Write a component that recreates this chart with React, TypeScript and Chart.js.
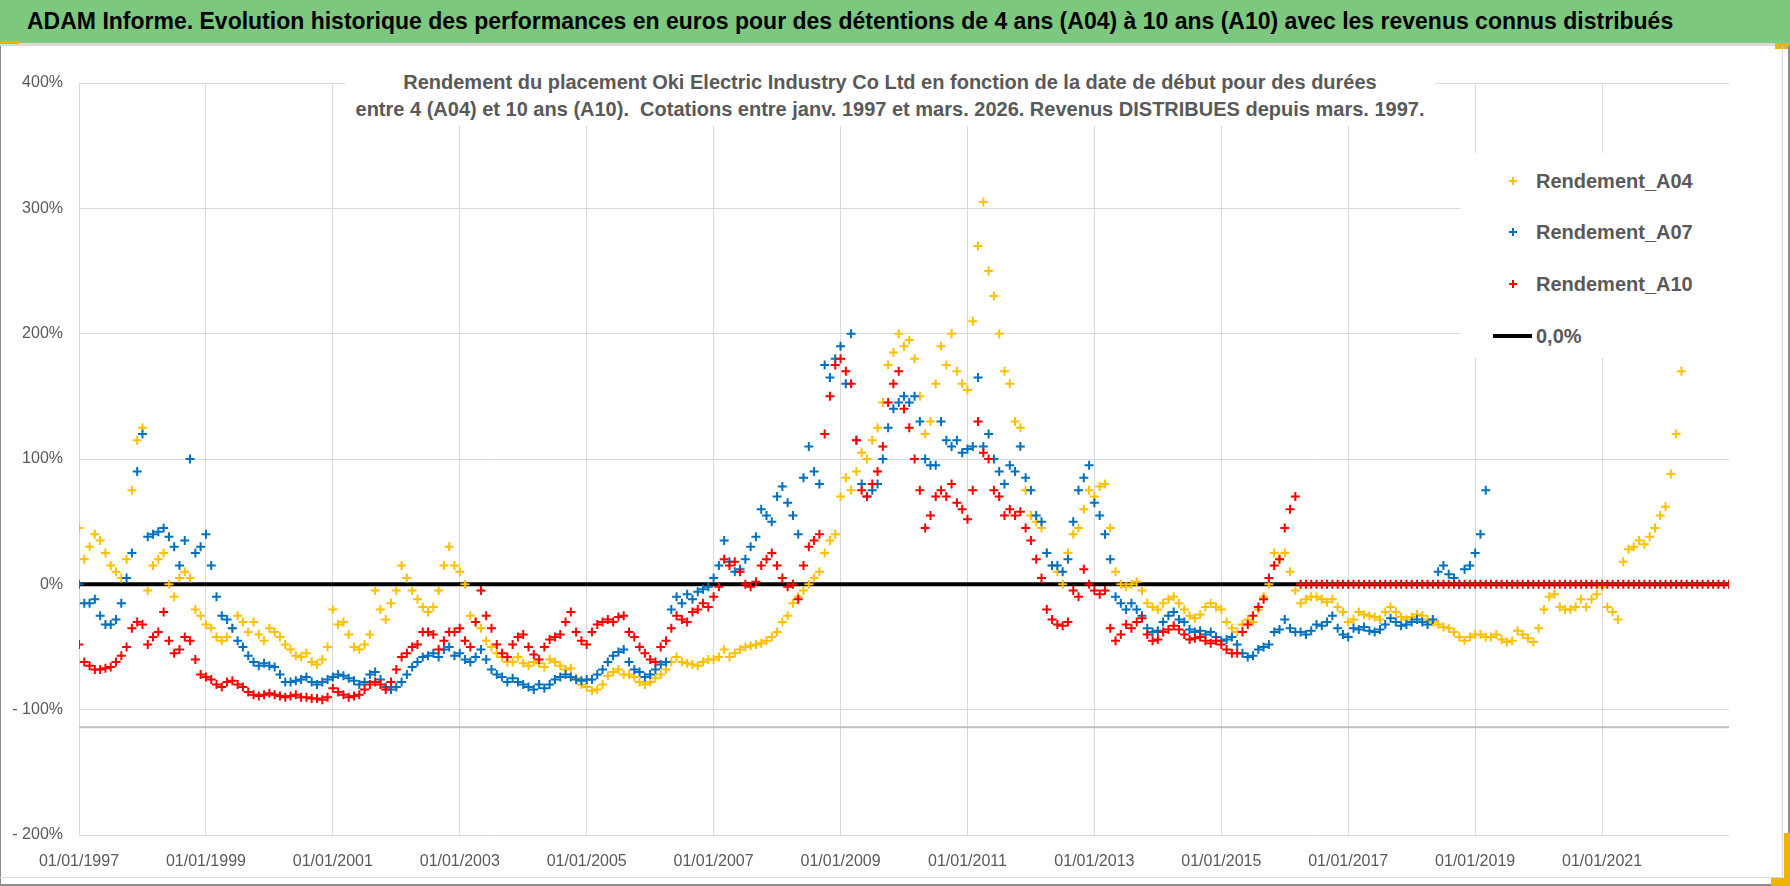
import React, { useEffect, useRef } from "react";
import { Chart, registerables } from "chart.js";

Chart.register(...registerables);

// ---------------- DATA ----------------
const START_YEAR = 1997; // monthly values starting January 1997
const X_MIN = 1997;
const X_MAX = 2023;
const TICK_YEARS = [1997, 1999, 2001, 2003, 2005, 2007, 2009, 2011, 2013, 2015, 2017, 2019, 2021];
const Y_TICKS = [-200, -100, 0, 100, 200, 300, 400];

const TITLE =
  "ADAM Informe. Evolution historique des performances en euros pour des détentions de 4 ans (A04) à 10 ans (A10) avec les revenus connus distribués";
const SUBTITLE_1 =
  "Rendement du placement Oki Electric Industry Co Ltd en fonction de la date de début pour des durées";
const SUBTITLE_2 =
  "entre 4 (A04) et 10 ans (A10).  Cotations entre janv. 1997 et mars. 2026. Revenus DISTRIBUES depuis mars. 1997.";

const SERIES_NAMES = ["Rendement_A04", "Rendement_A07", "Rendement_A10", "0,0%"];

// Rendement_A04 (%), monthly from Jan 1997
const A04 = [
  45, 20, 30, 40, 35, 25, 15, 10, 5, 20, 75, 115,
  125, -5, 15, 20, 25, 0, -10, 5, 10, 5, -20, -25,
  -32, -35, -42, -45, -42, -35, -25, -30, -38, -30, -40, -45,
  -35, -38, -42, -48, -52, -57, -58, -55, -62, -64, -60, -50,
  -20, -32, -30, -40, -50, -52, -48, -40, -5, -20, -28, -15,
  -5, 15, 5, -5, -12, -18, -22, -18, -5, 15, 30, 15,
  10, 0, -25, -30, -35, -45, -50, -55, -58, -62, -62, -58,
  -63, -65, -62, -63, -66, -60, -62, -65, -68, -67, -75, -80,
  -82, -85, -84, -80, -73, -70, -68, -72, -72, -74, -78, -80,
  -78, -75, -72, -68, -62, -58, -62, -63, -64, -65, -62, -60,
  -60, -58, -52, -58, -55, -52, -50, -49, -48, -47, -45, -42,
  -38, -30, -25, -15, -10, -5, 0, 5, 10, 25, 35, 40,
  70, 85, 75, 90, 105, 100, 115, 125, 145, 175, 185, 200,
  190, 195, 180, 150, 120, 130, 160, 190, 175, 200, 170, 160,
  155, 210, 270, 305, 250, 230, 200, 170, 160, 130, 125, 75,
  55, 50, 45, 25, 15, 10, 0, 25, 40, 45, 60, 75,
  70, 78, 80, 45, 10, 0, -2, 0, 2, -5, -15, -18,
  -20, -15, -12, -10, -15, -20, -25, -27, -24, -18, -15, -18,
  -20, -30, -35, -38, -32, -28, -30, -20, -10, 0, 25, 20,
  25, 10, -5, -15, -12, -10, -10, -12, -14, -12, -18, -22,
  -30, -28, -22, -24, -25, -26, -28, -22, -18, -22, -26, -28,
  -26, -24, -25, -28, -30, -32, -34, -35, -38, -42, -45, -42,
  -40, -40, -42, -42, -40, -44, -46, -45, -37, -40, -43, -46,
  -35, -20, -10, -8, -18, -20, -20, -18, -12, -18, -12, -8,
  -2, -18, -22, -28, 18, 28, 30, 35, 32, 38, 45, 55,
  62, 88, 120, 170,
];

// Rendement_A07 (%), monthly from Jan 1997
const A07 = [
  0, -15, -15, -12, -25, -32, -32, -28, -15, 5, 25, 90,
  120, 38, 40, 42, 45, 38, 30, 15, 35, 100, 25, 30,
  40, 15, -10, -25, -28, -35, -45, -50, -57, -62, -65, -63,
  -65, -66, -72, -78, -78, -77, -76, -74, -78, -80, -78, -76,
  -74, -72, -73, -75, -77, -80, -78, -72, -70, -76, -82, -84,
  -82, -78, -72, -66, -62, -58, -57, -55, -58, -52, -50, -57,
  -55, -60, -62, -58, -52, -60, -68, -72, -74, -78, -75, -78,
  -80, -82, -84, -80, -83, -80, -76, -74, -72, -74, -76, -77,
  -76, -76, -72, -68, -62, -57, -54, -52, -62, -68, -70, -74,
  -72, -68, -64, -62, -20, -10, -15, -8, -12, -6, -4, -2,
  5, 15, 35, 18, 10, 12, 20, 30, 38, 60, 55, 50,
  70, 78, 65, 55, 40, 85, 110, 90, 80, 175, 165, 180,
  190, 160, 200, 115, 80, 70, 75, 80, 100, 125, 140, 145,
  150, 145, 150, 130, 100, 95, 95, 130, 115, 110, 115, 105,
  108, 110, 165, 110, 120, 100, 90, 80, 95, 90, 110, 85,
  75, 55, 50, 25, 15, 15, 10, 20, 50, 75, 85, 95,
  65, 55, 40, 20, -10, -15, -20, -15, -20, -25, -35, -38,
  -37, -30, -25, -22, -28, -30, -36, -38, -37, -40, -38, -42,
  -45, -44, -42, -48, -55, -58, -57, -52, -50, -48, -38, -36,
  -28, -35, -38, -38, -40, -37, -32, -33, -30, -25, -35, -40,
  -42, -35, -36, -34, -37, -38, -36, -32, -27, -30, -33, -32,
  -30, -28, -30, -32, -28, 10, 15, 8, 5, 0, 12, 15,
  25, 40, 75,
];

// Rendement_A10 (%), monthly from Jan 1997 (0 after March 2016)
const A10 = [
  -48, -62, -65, -68, -68, -67, -66, -62, -57, -50, -35, -30,
  -32, -48, -42, -38, -22, -45, -55, -52, -42, -45, -60, -72,
  -74, -76, -80, -82, -78, -77, -80, -82, -86, -88, -89, -88,
  -87, -88, -89, -90, -89, -88, -90, -90, -91, -91, -92, -90,
  -83, -86, -88, -90, -89, -88, -84, -80, -78, -80, -84, -78,
  -68, -58, -55, -50, -48, -38, -38, -40, -52, -45, -38, -38,
  -35, -45, -50, -30, -5, -25, -35, -48, -55, -58, -48, -42,
  -40, -50, -56, -60, -50, -44, -42, -40, -30, -22, -38, -45,
  -48, -38, -32, -30, -28, -30, -26, -25, -38, -42, -50, -55,
  -60, -62, -50, -45, -35, -25, -28, -30, -22, -20, -15, -18,
  -10, -2, 20, 15, 18, 10, 0, -2, 2, 15, 20, 25,
  15, 5, -2, 0, -12, 15, 30, 35, 40, 120, 150, 175,
  180, 170, 160, 115, 75, 70, 80, 90, 110, 145, 160, 170,
  140, 125, 100, 75, 45, 55, 70, 75, 70, 80, 65, 60,
  52, 75, 130, 105, 100, 75, 70, 55, 60, 55, 58, 45,
  35, 20, 5, -20, -28, -32, -33, -30, -5, -10, 12, 0,
  -5, -8, -5, -35, -45, -40, -32, -35, -30, -27, -40, -45,
  -44, -38, -36, -33, -36, -40, -44, -43, -42, -45, -47, -45,
  -48, -52, -55, -55, -38, -32, -25, -18, -12, 5, 15, 20,
  45, 60, 70, 0, 0, 0, 0, 0, 0, 0, 0, 0,
  0, 0, 0, 0, 0, 0, 0, 0, 0, 0, 0, 0,
  0, 0, 0, 0, 0, 0, 0, 0, 0, 0, 0, 0,
  0, 0, 0, 0, 0, 0, 0, 0, 0, 0, 0, 0,
  0, 0, 0, 0, 0, 0, 0, 0, 0, 0, 0, 0,
  0, 0, 0, 0, 0, 0, 0, 0, 0, 0, 0, 0,
  0, 0, 0, 0, 0, 0, 0, 0, 0, 0, 0, 0,
  0,
];

const LINE_X = [1997, 2023];
const ZERO_LINE = [0, 0];
const FLOOR_LINE = [-114, -114];

// ---------------- STYLE ----------------
const COLORS = ["#FFC000", "#0070C0", "#FF0000", "#000000"];
const FONT = "'Liberation Sans', Arial, sans-serif";
const TEXT_GRAY = "#595959";
const GRID = "#D9D9D9";

const toPoints = (vals: number[]) => vals.map((v, i) => ({ x: START_YEAR + i / 12, y: v }));
const linePoints = (ys: number[]) => LINE_X.map((x, i) => ({ x, y: ys[i] }));

function Cross({ color }: { color: string }) {
  return (
    <div style={{ position: "relative", width: 8, height: 8 }}>
      <div style={{ position: "absolute", left: 0, top: 3, width: 8, height: 2, background: color }} />
      <div style={{ position: "absolute", left: 3, top: 0, width: 2, height: 8, background: color }} />
    </div>
  );
}

export default function App() {
  const canvasRef = useRef<HTMLCanvasElement | null>(null);

  useEffect(() => {
    if (!canvasRef.current) return;
    const scatterDs = (label: string, vals: number[], color: string, order: number) => ({
      label,
      data: toPoints(vals),
      pointStyle: "cross",
      pointRadius: 4.5,
      pointBorderWidth: 2,
      borderColor: color,
      backgroundColor: color,
      showLine: false,
      order,
    });
    const chart = new Chart(canvasRef.current, {
      type: "scatter",
      data: {
        datasets: [
          scatterDs(SERIES_NAMES[0], A04, COLORS[0], 3),
          scatterDs(SERIES_NAMES[1], A07, COLORS[1], 2),
          scatterDs(SERIES_NAMES[2], A10, COLORS[2], 1),
          {
            label: SERIES_NAMES[3],
            data: linePoints(ZERO_LINE),
            showLine: true,
            borderColor: COLORS[3],
            borderWidth: 4,
            pointRadius: 0,
            order: 5,
          },
          {
            label: "",
            data: linePoints(FLOOR_LINE),
            showLine: true,
            borderColor: "#BFBFBF",
            borderWidth: 2,
            pointRadius: 0,
            order: 6,
          },
        ] as any,
      },
      options: {
        responsive: false,
        animation: false,
        devicePixelRatio: 1,
        layout: { padding: { left: 0, top: 83, right: 61, bottom: 0 } },
        plugins: { legend: { display: false }, tooltip: { enabled: false }, title: { display: false } },
        scales: {
          x: {
            type: "linear",
            min: X_MIN,
            max: X_MAX,
            afterBuildTicks: (s: any) => {
              s.ticks = TICK_YEARS.map((v) => ({ value: v }));
            },
            afterFit: (s: any) => {
              s.height = 51;
            },
            grid: { color: GRID, lineWidth: 1, drawTicks: false },
            border: { display: false },
            ticks: {
              callback: (v: any) => `01/01/${v}`,
              color: TEXT_GRAY,
              font: { family: FONT, size: 16 },
              padding: 17,
              maxRotation: 0,
              autoSkip: false,
            },
          },
          y: {
            type: "linear",
            min: -200,
            max: 400,
            afterBuildTicks: (s: any) => {
              s.ticks = Y_TICKS.map((v) => ({ value: v }));
            },
            afterFit: (s: any) => {
              s.width = 79;
            },
            grid: { color: GRID, lineWidth: 1, drawTicks: false },
            border: { display: false },
            ticks: {
              callback: (v: any) => (v < 0 ? `- ${Math.abs(v)}%` : `${v}%`),
              color: TEXT_GRAY,
              font: { family: FONT, size: 16 },
              padding: 16,
            },
          },
        },
      } as any,
    });
    return () => chart.destroy();
  }, []);

  const legendRows = [
    { top: 181, name: SERIES_NAMES[0], color: COLORS[0], line: false },
    { top: 232, name: SERIES_NAMES[1], color: COLORS[1], line: false },
    { top: 284, name: SERIES_NAMES[2], color: COLORS[2], line: false },
    { top: 336, name: SERIES_NAMES[3], color: COLORS[3], line: true },
  ];

  return (
    <div
      style={{
        position: "absolute",
        left: 0,
        top: 0,
        width: 1790,
        height: 886,
        background: "#FFFFFF",
        overflow: "hidden",
        fontFamily: FONT,
      }}
    >
      {/* title bar */}
      <div
        style={{
          position: "absolute",
          left: 0,
          top: 0,
          width: 1790,
          height: 43,
          background: "#7CC87E",
          color: "#000",
          fontWeight: 700,
          fontSize: 23,
          lineHeight: "43px",
          paddingLeft: 27,
          boxSizing: "border-box",
          whiteSpace: "nowrap",
        }}
      >
        {TITLE}
      </div>
      <div style={{ position: "absolute", left: 0, top: 43, width: 1790, height: 3, background: "#D9D9D9" }} />
      <div style={{ position: "absolute", left: 0, top: 41, width: 19, height: 3, background: "#F0B400" }} />
      <div style={{ position: "absolute", left: 1775, top: 43, width: 15, height: 6, background: "#F0B400" }} />

      {/* frame */}
      <div style={{ position: "absolute", left: 0, top: 46, width: 1, height: 840, background: "#8C8C8C" }} />
      <div style={{ position: "absolute", left: 0, top: 884, width: 1790, height: 2, background: "#8C8C8C" }} />
      <div style={{ position: "absolute", left: 1788, top: 46, width: 2, height: 840, background: "#8C8C8C" }} />
      <div style={{ position: "absolute", left: 0, top: 877, width: 1783, height: 1, background: "#D9D9D9" }} />
      <div style={{ position: "absolute", left: 1782, top: 46, width: 1, height: 832, background: "#D9D9D9" }} />

      <canvas
        ref={canvasRef}
        width={1790}
        height={886}
        style={{ position: "absolute", left: 0, top: 0, width: 1790, height: 886 }}
      />

      <div style={{ position: "absolute", left: 1784, top: 833, width: 6, height: 53, background: "#F0B400" }} />
      <div style={{ position: "absolute", left: 1771, top: 878, width: 19, height: 8, background: "#F0B400" }} />

      {/* subtitle */}
      <div
        style={{
          position: "absolute",
          left: 345,
          top: 66,
          width: 1090,
          height: 60,
          background: "#FFFFFF",
          color: TEXT_GRAY,
          fontWeight: 700,
          fontSize: 20,
          lineHeight: "27px",
          textAlign: "center",
          paddingTop: 3,
          boxSizing: "border-box",
          whiteSpace: "pre",
        }}
      >
        <div>{SUBTITLE_1}</div>
        <div>{SUBTITLE_2}</div>
      </div>

      {/* legend */}
      <div
        style={{
          position: "absolute",
          left: 1460,
          top: 153,
          width: 270,
          height: 205,
          background: "#FFFFFF",
        }}
      />
      {legendRows.map((r) => (
        <React.Fragment key={r.name}>
          {r.line ? (
            <div style={{ position: "absolute", left: 1493, top: r.top - 2, width: 39, height: 4, background: r.color }} />
          ) : (
            <div style={{ position: "absolute", left: 1509, top: r.top - 4 }}>
              <Cross color={r.color} />
            </div>
          )}
          <div
            style={{
              position: "absolute",
              left: 1536,
              top: r.top - 14,
              height: 28,
              lineHeight: "28px",
              fontSize: 20,
              fontWeight: 700,
              color: TEXT_GRAY,
              whiteSpace: "nowrap",
            }}
          >
            {r.name}
          </div>
        </React.Fragment>
      ))}
    </div>
  );
}
